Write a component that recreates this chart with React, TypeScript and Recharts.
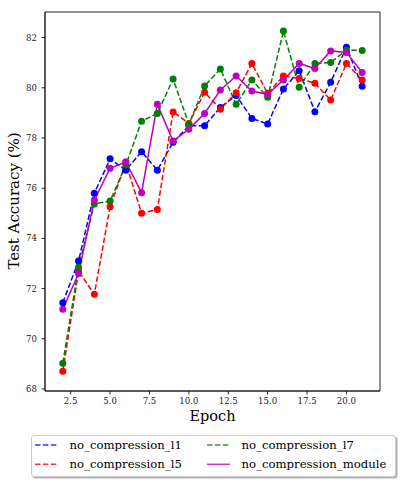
import { LineChart, Line, XAxis, YAxis, ReferenceArea } from 'recharts';

const epochs = [2, 3, 4, 5, 6, 7, 8, 9, 10, 11, 12, 13, 14, 15, 16, 17, 18, 19, 20, 21];
const l1 = [71.44, 73.1, 75.8, 77.17, 76.72, 77.45, 76.72, 77.83, 78.49, 78.49, 79.22, 79.69, 78.78, 78.56, 79.95, 80.68, 79.05, 80.22, 81.62, 80.06];
const l5 = [68.71, 72.7, 71.77, 75.26, 77.0, 75.0, 75.15, 79.04, 78.58, 79.82, 79.15, 79.8, 80.97, 79.78, 80.47, 80.37, 80.18, 79.51, 80.97, 80.31];
const l7 = [69.03, 72.85, 75.37, 75.49, 76.92, 78.67, 78.98, 80.35, 78.55, 80.07, 80.75, 79.34, 80.31, 79.62, 82.26, 80.02, 80.97, 81.01, 81.5, 81.49];
const moduleAcc = [71.18, 72.6, 75.53, 76.79, 77.05, 75.82, 79.34, 77.88, 78.35, 78.98, 79.91, 80.47, 79.87, 79.74, 80.31, 80.97, 80.77, 81.47, 81.41, 80.61];

const xTicks = [2.5, 5, 7.5, 10, 12.5, 15, 17.5, 20];
const yTicks = [68, 70, 72, 74, 76, 78, 80, 82];
const X_DOMAIN: [number, number] = [0.87, 22.13];
const Y_DOMAIN: [number, number] = [67.92, 83.02];

const series = [
  { key: 'l1', name: 'no_compression_l1', color: '#0000ff', legend: '#3333ff', dashed: true },
  { key: 'l5', name: 'no_compression_l5', color: '#ff0000', legend: '#ff3333', dashed: true },
  { key: 'l7', name: 'no_compression_l7', color: '#008000', legend: '#339933', dashed: true },
  { key: 'module', name: 'no_compression_module', color: '#bf00bf', legend: '#cc33cc', dashed: false },
];

const data = epochs.map((e, i) => ({ epoch: e, l1: l1[i], l5: l5[i], l7: l7[i], module: moduleAcc[i] }));

const FONT = '"DejaVu Serif", serif';
const DASH = '5.5 2.4';

function Legend2() {
  const cols = [
    [series[0], series[1]],
    [series[2], series[3]],
  ];
  const colX = [4, 176];
  return (
    <div
      style={{
        position: 'absolute', left: 31, top: 435, width: 365, height: 42,
        border: '1px solid #cccccc', borderRadius: 3, background: '#fff',
        boxShadow: '1.5px 1.5px 0 rgba(0,0,0,0.3)', boxSizing: 'border-box',
      }}
    >
      <svg width={365} height={42} style={{ position: 'absolute', left: -1, top: -1 }}>
        {cols.map((col, ci) =>
          col.map((s, ri) => {
            const y = 10 + ri * 19.3;
            return (
              <g key={s.key}>
                <line
                  x1={colX[ci]} x2={colX[ci] + 23} y1={y} y2={y}
                  stroke={s.legend} strokeWidth={1.5}
                  strokeDasharray={s.dashed ? DASH : undefined}
                />
                <text x={colX[ci] + 34.5} y={y + 4} fontFamily={FONT} fontSize={11.7} fill="#000">
                  {s.name}
                </text>
              </g>
            );
          })
        )}
      </svg>
    </div>
  );
}

export default function App() {
  return (
    <div style={{ position: 'absolute', left: 0, top: 0, width: 402, height: 484, background: '#fff' }}>
      <LineChart width={402} height={484} data={data} margin={{ top: 12, right: 22, bottom: 53, left: 0 }}>
        <XAxis
          dataKey="epoch" type="number" domain={X_DOMAIN} ticks={xTicks} allowDataOverflow
          tickFormatter={(v: number) => v.toFixed(1)}
          tick={{ fontFamily: FONT, fontSize: 8.6, fill: '#222' }}
          tickSize={3.5} tickMargin={3} height={40}
          stroke="#222"
          label={(props: any) => {
            const vb = props.viewBox || { x: 45, y: 391, width: 335 };
            return (
              <text x={vb.x + vb.width / 2} y={vb.y + 30} textAnchor="middle" fontFamily={FONT} fontSize={14.5} fill="#000">
                Epoch
              </text>
            );
          }}
        />
        <YAxis
          type="number" domain={Y_DOMAIN} ticks={yTicks} allowDataOverflow width={45}
          tick={{ fontFamily: FONT, fontSize: 8.6, fill: '#222' }}
          tickSize={3.5} tickMargin={4.5}
          stroke="#222"
          label={() => (
            <text x={18.5} y={201} transform="rotate(-90 18.5 201)" textAnchor="middle" fontFamily={FONT} fontSize={15} fill="#000">
              Test Accuracy (%)
            </text>
          )}
        />
        <ReferenceArea x1={X_DOMAIN[0]} x2={X_DOMAIN[1]} y1={Y_DOMAIN[0]} y2={Y_DOMAIN[1]} fill="none" stroke="#222" strokeWidth={1} fillOpacity={0} />
        {series.map((s) => (
          <Line
            key={s.key}
            dataKey={s.key}
            name={s.name}
            type="linear"
            stroke={s.color}
            strokeWidth={1.5}
            strokeDasharray={s.dashed ? DASH : undefined}
            dot={{ r: 3.5, fill: s.color, stroke: 'none', strokeWidth: 0 }}
            activeDot={false}
            isAnimationActive={false}
          />
        ))}
      </LineChart>
      <Legend2 />
    </div>
  );
}
